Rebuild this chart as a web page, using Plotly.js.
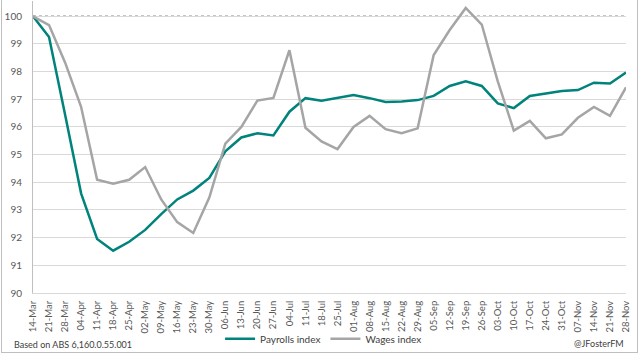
<!DOCTYPE html>
<html><head><meta charset="utf-8">
<script src="https://cdn.plot.ly/plotly-3.0.1.min.js"></script>
<style>html,body{margin:0;padding:0;background:#fff;}#wrap{position:relative;width:640px;height:354px;}#chart{width:640px;height:354px;}#border{position:absolute;left:1px;top:-1px;width:635px;height:352px;border:1px solid #bfbfbf;pointer-events:none;}</style>
</head><body><div id="wrap"><div id="chart"></div><div id="border"></div></div>
<script>
const weeks = ["14-Mar","21-Mar","28-Mar","04-Apr","11-Apr","18-Apr","25-Apr","02-May","09-May","16-May","23-May","30-May","06-Jun","13-Jun","20-Jun","27-Jun","04-Jul","11-Jul","18-Jul","25-Jul","01-Aug","08-Aug","15-Aug","22-Aug","29-Aug","05-Sep","12-Sep","19-Sep","26-Sep","03-Oct","10-Oct","17-Oct","24-Oct","31-Oct","07-Nov","14-Nov","21-Nov","28-Nov"];
const payrolls = [100,99.25,96.45,93.6,91.95,91.53,91.85,92.28,92.85,93.38,93.7,94.16,95.12,95.62,95.77,95.69,96.55,97.04,96.95,97.05,97.15,97.04,96.9,96.92,96.97,97.12,97.48,97.65,97.48,96.85,96.68,97.12,97.22,97.3,97.33,97.6,97.57,97.97];
const wages = [100,99.68,98.33,96.73,94.09,93.95,94.09,94.55,93.38,92.56,92.17,93.45,95.4,96.0,96.95,97.05,98.77,95.97,95.48,95.2,96.0,96.4,95.92,95.77,95.95,98.6,99.5,100.3,99.7,97.65,95.87,96.22,95.59,95.73,96.33,96.72,96.4,97.43];
const baseline = 100;
const yTicks = [90,91,92,93,94,95,96,97,98,99,100];

const font = "Lato, 'Open Sans', sans-serif";
const traces = [
  {x: weeks, y: payrolls, type: 'scatter', mode: 'lines', name: 'Payrolls index',
   line: {color: '#00837b', width: 2.5}},
  {x: weeks, y: wages, type: 'scatter', mode: 'lines', name: 'Wages index',
   line: {color: '#a5a5a5', width: 2.5}}
];
const layout = {
  width: 640, height: 354,
  margin: {l: 33, r: 14, t: 1, b: 57},
  paper_bgcolor: '#fff', plot_bgcolor: '#fff',
  font: {family: font, size: 10, color: '#595959'},
  showlegend: true,
  legend: {orientation: 'h', x: 0.49, xanchor: 'center', y: -0.157, yanchor: 'middle',
           bgcolor: 'rgba(0,0,0,0)',
           font: {size: 10, color: '#404040'}, itemwidth: 30, tracegroupgap: 0},
  xaxis: {type: 'category', range: [0, weeks.length - 1], tickangle: -90,
          showgrid: false, zeroline: false, showline: true, linecolor: '#d9d9d9', linewidth: 1,
          ticks: 'outside', ticklen: 3, tickcolor: 'rgba(0,0,0,0)',
          tickfont: {size: 9.5, color: '#595959'}, fixedrange: true},
  yaxis: {range: [90, 100.55], tickvals: yTicks, ticktext: yTicks.map(String),
          showgrid: true, gridcolor: '#d9d9d9', gridwidth: 1, zeroline: false,
          showline: true, linecolor: '#bfbfbf', linewidth: 1,
          ticks: 'outside', ticklen: 8, tickcolor: 'rgba(0,0,0,0)',
          tickfont: {size: 10, color: '#595959'}, fixedrange: true},
  shapes: [
    {type: 'line', xref: 'paper', x0: 0, x1: 1, yref: 'y', y0: baseline, y1: baseline,
     line: {color: '#8c8c8c', width: 1.2, dash: 'dot'}, layer: 'below'}
  ],
  annotations: [
    {text: 'Based on ABS 6,160.0.55.001', xref: 'paper', yref: 'paper', x: -0.035, y: -0.175,
     xanchor: 'left', yanchor: 'middle', showarrow: false, font: {size: 9, color: '#404040'}},
    {text: '@JFosterFM', xref: 'paper', yref: 'paper', x: 1.0, y: -0.172,
     xanchor: 'right', yanchor: 'middle', showarrow: false, font: {size: 9, color: '#404040'}}
  ]
};
Plotly.newPlot('chart', traces, layout, {displayModeBar: false, staticPlot: true});
</script></body></html>
